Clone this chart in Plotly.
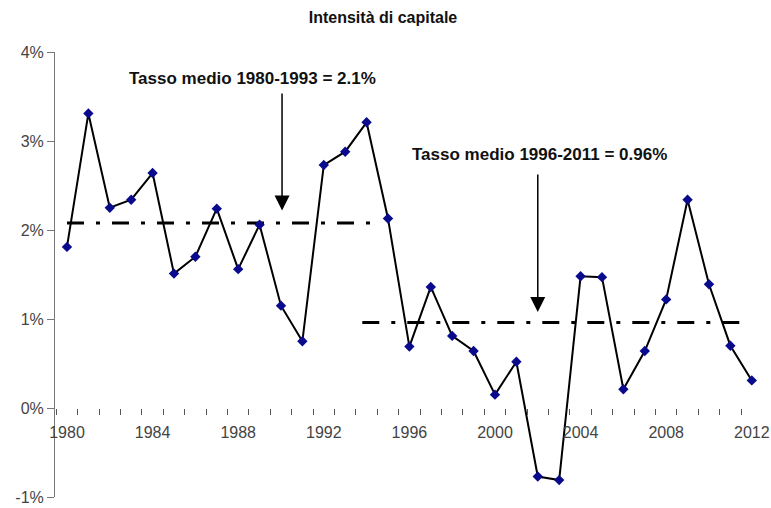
import plotly.graph_objects as go

years = list(range(1980, 2013))
values = [1.81, 3.31, 2.25, 2.34, 2.64, 1.51, 1.70, 2.24, 1.56, 2.06, 1.15, 0.75,
          2.73, 2.88, 3.21, 2.13, 0.69, 1.36, 0.81, 0.64, 0.15, 0.52, -0.77, -0.81,
          1.48, 1.47, 0.21, 0.64, 1.22, 2.34, 1.39, 0.70, 0.31]

avg1_x = [1980, 1994.3]
avg1_y = [2.08, 2.08]
avg2_x = [1993.8, 2011.8]
avg2_y = [0.96, 0.96]

ytick_vals = [-1, 0, 1, 2, 3, 4]
ytick_text = ["-1%", "0%", "1%", "2%", "3%", "4%"]
xtick_vals = list(range(1980, 2013, 4))
xtick_text = [str(y) for y in xtick_vals]

title_text = "Intensità di capitale"
note1 = "Tasso medio 1980-1993 = 2.1%"
note2 = "Tasso medio 1996-2011 = 0.96%"

FONT = "Liberation Sans, Arial, sans-serif"
dash = "17px,12px,4px,12px"

W, H = 771, 508
L, R, T, B = 55, 10, 52, 11
pw, ph = W - L - R, H - T - B


def px(xp):
    return (xp - L) / pw


def py(yp):
    return 1 - (yp - T) / ph


fig = go.Figure()
fig.add_trace(go.Scatter(x=avg1_x, y=avg1_y, mode="lines",
                         line=dict(color="black", width=3, dash=dash), hoverinfo="skip"))
fig.add_trace(go.Scatter(x=avg2_x, y=avg2_y, mode="lines",
                         line=dict(color="black", width=3, dash=dash), hoverinfo="skip"))
fig.add_trace(go.Scatter(x=years, y=values, mode="lines+markers",
                         line=dict(color="black", width=2),
                         marker=dict(symbol="diamond", size=8, color="#0a0a8c",
                                     line=dict(width=0))))

fig.add_annotation(x=1990.05, y=2.22, ax=1990.05, ay=3.55, xref="x", yref="y",
                   axref="x", ayref="y", text="", showarrow=True,
                   arrowhead=2, arrowsize=2.0, arrowwidth=1.5, arrowcolor="black")
fig.add_annotation(x=2002.0, y=1.08, ax=2002.0, ay=2.64, xref="x", yref="y",
                   axref="x", ayref="y", text="", showarrow=True,
                   arrowhead=2, arrowsize=2.0, arrowwidth=1.5, arrowcolor="black")
fig.add_annotation(x=px(252), y=py(78), xref="paper", yref="paper",
                   xanchor="center", yanchor="middle",
                   text="<b>" + note1 + "</b>", showarrow=False,
                   font=dict(family=FONT, size=17, color="#111"))
fig.add_annotation(x=px(539), y=py(155), xref="paper", yref="paper",
                   xanchor="center", yanchor="middle",
                   text="<b>" + note2 + "</b>", showarrow=False,
                   font=dict(family=FONT, size=17, color="#111"))

fig.update_layout(
    width=W, height=H,
    margin=dict(l=L, r=R, t=T, b=B, autoexpand=False),
    paper_bgcolor="white", plot_bgcolor="white",
    showlegend=False,
    title=dict(text="<b>" + title_text + "</b>", x=383 / W, xanchor="center",
               y=1 - 17 / H, yanchor="middle",
               font=dict(family=FONT, size=16, color="#111")),
    xaxis=dict(range=[1979.44, 1979.44 + pw / 21.4], showgrid=False, zeroline=False,
               showline=False, anchor="free", position=0.2, automargin=False,
               tickmode="array", tickvals=xtick_vals, ticktext=xtick_text,
               ticks="outside", ticklen=10, tickcolor="rgba(0,0,0,0)",
               tickfont=dict(family=FONT, size=16, color="#444"),
               minor=dict(tickmode="linear", tick0=1980.5, dtick=1, ticks="outside",
                          ticklen=6, tickcolor="#555", tickwidth=1, showgrid=False)),
    yaxis=dict(range=[-1, 4], showgrid=False, zeroline=False, showline=True,
               linecolor="#777", linewidth=1, automargin=False,
               tickmode="array", tickvals=ytick_vals, ticktext=ytick_text,
               ticks="outside", ticklen=7, tickcolor="#777",
               tickfont=dict(family=FONT, size=16, color="#444")),
)

fig.write_html("out.html", config={"displayModeBar": False},
               post_script="document.body.style.margin='0';"
                           "document.body.style.overflow='hidden';")
